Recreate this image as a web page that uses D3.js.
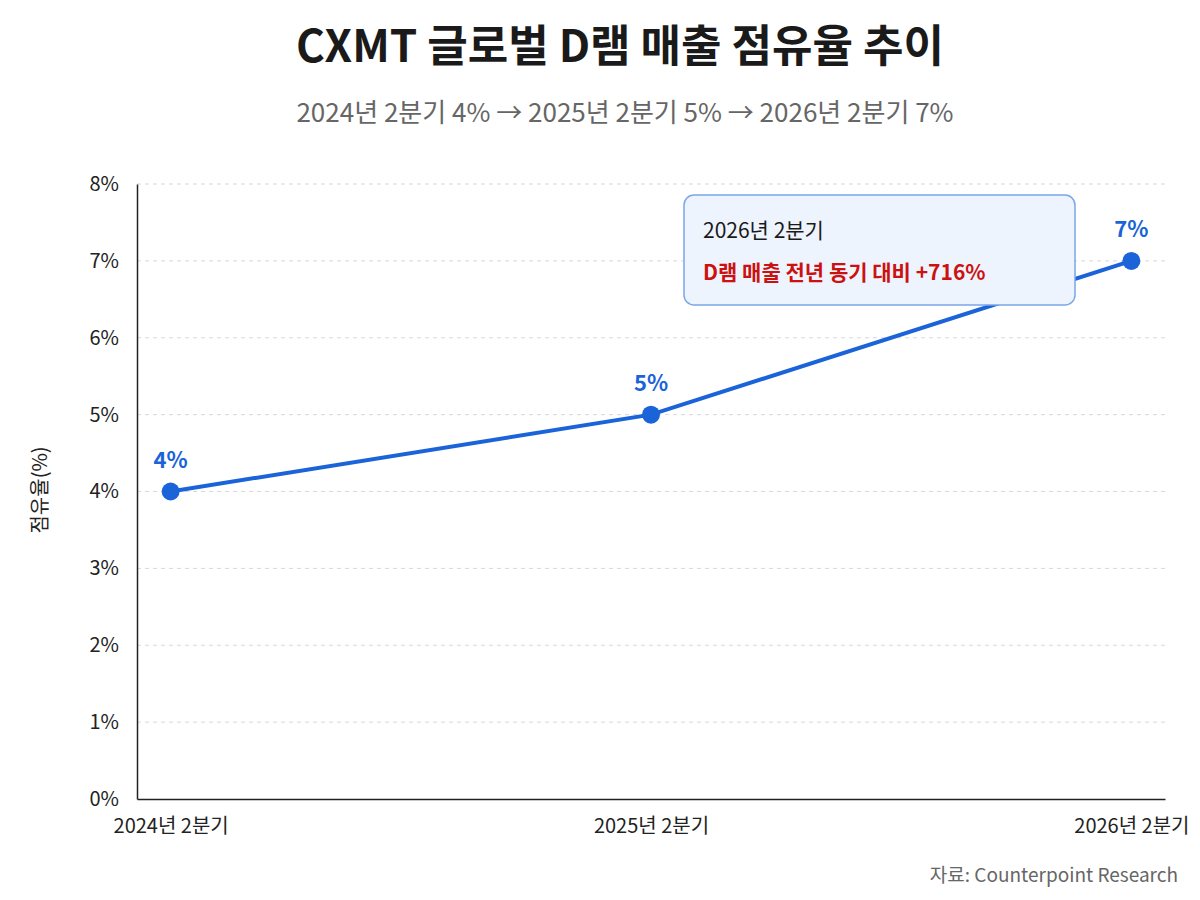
<!DOCTYPE html>
<html><head><meta charset="utf-8">
<script src="https://cdn.jsdelivr.net/npm/d3@7"></script>
<style>body{margin:0;background:#fff}text{font-family:"Noto Sans CJK KR","Noto Sans",sans-serif}</style>
</head><body><div id="chart"></div>
<script>
// data
var periods = ["2024년 2분기", "2025년 2분기", "2026년 2분기"];
var shares = [4, 5, 7];
var yTicks = [0, 1, 2, 3, 4, 5, 6, 7, 8];

var width = 1200, height = 900;
var svg = d3.select("#chart").append("svg").attr("width", width).attr("height", height);
var plotLeft = 137, plotRight = 1165, plotTop = 184, plotBottom = 799;

var x = d3.scalePoint().domain(periods).range([plotLeft, plotRight]).padding(0.07);
var y = d3.scaleLinear().domain([0, 8]).range([plotBottom, plotTop]);

// title
svg.append("text").attr("x", 620).attr("y", 62).attr("text-anchor", "middle")
  .style("font-size", "44px").style("font-weight", "bold").attr("fill", "#1a1a1a")
  .text("CXMT 글로벌 D램 매출 점유율 추이");
svg.append("text").attr("x", 625).attr("y", 122).attr("text-anchor", "middle")
  .style("font-size", "26px").attr("fill", "#666")
  .text("2024년 2분기 4% → 2025년 2분기 5% → 2026년 2분기 7%");

// grid
svg.selectAll(".grid").data(yTicks.filter(function (d) { return d > 0; })).enter()
  .append("line").attr("x1", plotLeft).attr("x2", plotRight)
  .attr("y1", function (d) { return y(d); }).attr("y2", function (d) { return y(d); })
  .attr("stroke", "#d8d8d8").attr("stroke-dasharray", "4,4");

// axes
var yAxis = svg.append("g").attr("transform", "translate(" + plotLeft + ",0)")
  .call(d3.axisLeft(y).tickValues(yTicks).tickSize(0).tickPadding(18).tickFormat(function (d) { return d + "%"; }));
var xAxis = svg.append("g").attr("transform", "translate(0," + plotBottom + ")")
  .call(d3.axisBottom(x).tickSize(0).tickPadding(20));
[yAxis, xAxis].forEach(function (a) {
  a.select(".domain").attr("stroke", "#222").attr("stroke-width", 1.5);
  a.selectAll("text").style("font-size", "20px").attr("fill", "#222")
    .style("font-family", "'Noto Sans CJK KR', sans-serif");
});

svg.append("text").attr("transform", "translate(47,490) rotate(-90)")
  .attr("text-anchor", "middle").style("font-size", "20px").attr("fill", "#222").text("점유율(%)");

// line
var pts = periods.map(function (p, i) { return { p: p, v: shares[i] }; });
svg.append("path").datum(pts).attr("fill", "none").attr("stroke", "#1a63d8").attr("stroke-width", 4)
  .attr("d", d3.line().x(function (d) { return x(d.p); }).y(function (d) { return y(d.v); }));
svg.selectAll(".pt").data(pts).enter().append("circle")
  .attr("cx", function (d) { return x(d.p); }).attr("cy", function (d) { return y(d.v); })
  .attr("r", 9).attr("fill", "#1a63d8");
svg.selectAll(".lbl").data(pts).enter().append("text")
  .attr("x", function (d) { return x(d.p); }).attr("y", function (d) { return y(d.v) - 24; })
  .attr("text-anchor", "middle").style("font-size", "22px").style("font-weight", "bold")
  .attr("fill", "#1a63d8").text(function (d) { return d.v + "%"; });

// annotation
svg.append("rect").attr("x", 684).attr("y", 195).attr("width", 391).attr("height", 110).attr("rx", 10)
  .attr("fill", "#eef4fd").attr("stroke", "#7aa7e8").attr("stroke-width", 1.5);
svg.append("text").attr("x", 703).attr("y", 238).style("font-size", "21px").attr("fill", "#1a1a1a").text("2026년 2분기");
svg.append("text").attr("x", 703).attr("y", 280).style("font-size", "21px").style("font-weight", "bold")
  .attr("fill", "#cc1111").text("D램 매출 전년 동기 대비 +716%");

// source
svg.append("text").attr("x", 1178).attr("y", 882).attr("text-anchor", "end")
  .style("font-size", "19px").attr("fill", "#666").text("자료: Counterpoint Research");
</script></body></html>
